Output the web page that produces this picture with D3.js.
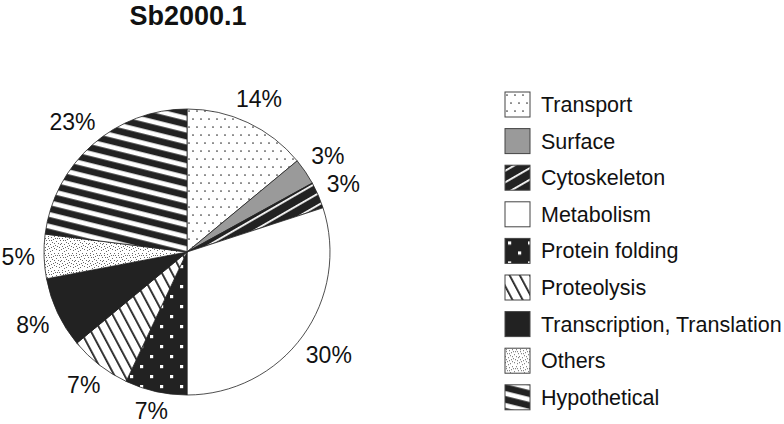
<!DOCTYPE html>
<html>
<head>
<meta charset="utf-8">
<script src="https://cdn.jsdelivr.net/npm/d3@7"></script>
<style>
  html, body { margin: 0; padding: 0; background: #fff; }
  svg { display: block; font-family: Arial, "Liberation Sans", sans-serif; }
</style>
</head>
<body>
<div id="chart"></div>
<script>
const title = "Sb2000.1";
const categories = ["Transport", "Surface", "Cytoskeleton", "Metabolism", "Protein folding",
  "Proteolysis", "Transcription, Translation", "Others", "Hypothetical"];
const values = [14, 3, 3, 30, 7, 7, 8, 5, 23];
const valueLabels = ["14%", "3%", "3%", "30%", "7%", "7%", "8%", "5%", "23%"];
const fills = ["url(#pTransport)", "#9a9a9a", "url(#pCyto)", "#ffffff", "url(#pFold)",
  "url(#pProteo)", "#222222", "url(#pOthers)", "url(#pHypo)"];

const W = 784, H = 424;
const cx = 187, cy = 252, R = 143;

const svg = d3.select("#chart").append("svg").attr("width", W).attr("height", H);
const defs = svg.append("defs");

// Transport: white with sparse dots
const pT = defs.append("pattern").attr("id", "pTransport").attr("patternUnits", "userSpaceOnUse")
  .attr("width", 8).attr("height", 16);
pT.append("rect").attr("width", 8).attr("height", 16).attr("fill", "#fff");
pT.append("circle").attr("cx", 2).attr("cy", 3).attr("r", 0.85).attr("fill", "#333");
pT.append("circle").attr("cx", 6).attr("cy", 11).attr("r", 0.85).attr("fill", "#333");

// Cytoskeleton: black with thin white diagonal lines
const pC = defs.append("pattern").attr("id", "pCyto").attr("patternUnits", "userSpaceOnUse")
  .attr("width", 10).attr("height", 10).attr("patternTransform", "rotate(-30)");
pC.append("rect").attr("width", 10).attr("height", 10).attr("fill", "#222");
pC.append("rect").attr("x", 0).attr("y", 4).attr("width", 10).attr("height", 1.8).attr("fill", "#fff");

// Protein folding: black with white squares
const pF = defs.append("pattern").attr("id", "pFold").attr("patternUnits", "userSpaceOnUse")
  .attr("width", 20).attr("height", 20);
pF.append("rect").attr("width", 20).attr("height", 20).attr("fill", "#222");
pF.append("rect").attr("x", 3).attr("y", 3).attr("width", 3.2).attr("height", 3.2).attr("fill", "#fff");
pF.append("rect").attr("x", 13).attr("y", 13).attr("width", 3.2).attr("height", 3.2).attr("fill", "#fff");

// Proteolysis: white with black steep "\" lines
const pP = defs.append("pattern").attr("id", "pProteo").attr("patternUnits", "userSpaceOnUse")
  .attr("width", 9).attr("height", 9).attr("patternTransform", "rotate(-28)");
pP.append("rect").attr("width", 9).attr("height", 9).attr("fill", "#fff");
pP.append("rect").attr("x", 3).attr("y", 0).attr("width", 1.8).attr("height", 9).attr("fill", "#222");

// Others: fine stipple
const stipple = [[1,1],[4,2],[7,1],[10,3],[2,5],[6,4],[9,6],[11,8],[0,8],[3,9],[5,7],[8,10],
  [1,11],[6,11],[10,11],[4,12],[7,13],[0,14],[2,13],[9,14],[12,12],[11,1],[13,5],[5,15],[12,15],[3,16],
  [8,3],[13,9],[1,3],[7,8],[12,3],[4,5]];
const pO = defs.append("pattern").attr("id", "pOthers").attr("patternUnits", "userSpaceOnUse")
  .attr("width", 14).attr("height", 17);
pO.append("rect").attr("width", 14).attr("height", 17).attr("fill", "#fff");
pO.selectAll("rect.d").data(stipple).join("rect").attr("class", "d")
  .attr("x", d => d[0]).attr("y", d => d[1]).attr("width", 0.9).attr("height", 0.9).attr("fill", "#444");

// Hypothetical: black with white wide stripes, shallow slope
const pH = defs.append("pattern").attr("id", "pHypo").attr("patternUnits", "userSpaceOnUse")
  .attr("width", 11.5).attr("height", 11.5).attr("patternTransform", "rotate(14)");
pH.append("rect").attr("width", 11.5).attr("height", 11.5).attr("fill", "#222");
pH.append("rect").attr("x", 0).attr("y", 6).attr("width", 11.5).attr("height", 4.8).attr("fill", "#fff");

// Title
svg.append("text").attr("x", cx + 1).attr("y", 25).attr("text-anchor", "middle")
  .attr("font-size", 27).attr("font-weight", "bold").attr("fill", "#111").text(title);

// Pie
const pie = d3.pie().sort(null).value(d => d)(values);
const arc = d3.arc().innerRadius(0).outerRadius(R);

const g = svg.append("g").attr("transform", `translate(${cx},${cy})`);
g.selectAll("path.slice").data(pie).join("path").attr("class", "slice")
  .attr("d", arc).attr("fill", (d, i) => fills[i])
  .attr("stroke", "#222").attr("stroke-width", 0.8);

// Outside-end labels: the label box sits just outside the rim
const gap = 9, halfH = 8;
const lbl = g.selectAll("text.lbl").data(pie).join("text").attr("class", "lbl")
  .attr("text-anchor", "middle").attr("dominant-baseline", "central")
  .attr("font-size", 23).attr("fill", "#111")
  .text((d, i) => valueLabels[i]);
lbl.each(function(d) {
  const w = this.getComputedTextLength();
  const a = (d.startAngle + d.endAngle) / 2;
  const s = Math.sin(a), c = -Math.cos(a);
  const r = R + gap + Math.abs(s) * w / 2 + Math.abs(c) * halfH;
  d3.select(this).attr("transform", `translate(${s * r},${c * r})`);
});

// Legend
const y = d3.scaleBand().domain(categories).range([92, 92 + 36.6 * categories.length]).paddingInner(0);
const leg = svg.append("g");
const rows = leg.selectAll("g").data(categories).join("g")
  .attr("transform", d => `translate(505,${y(d)})`);
rows.append("rect").attr("width", 25).attr("height", 25)
  .attr("fill", (d, i) => fills[i]).attr("stroke", "#444").attr("stroke-width", 1);
rows.append("text").attr("x", 36).attr("y", 20).attr("font-size", 21.5).attr("fill", "#111")
  .text(d => d);
</script>
</body>
</html>
